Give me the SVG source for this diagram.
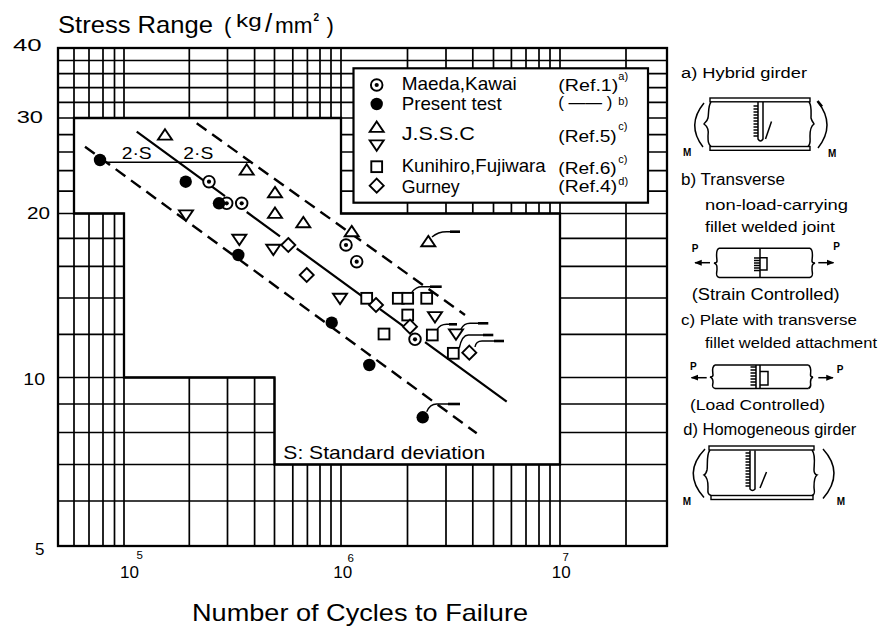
<svg xmlns="http://www.w3.org/2000/svg" width="886" height="628" viewBox="0 0 886 628">
<style>
.g{stroke:#000;stroke-width:1.7;fill:none}
.b{stroke:#000;stroke-width:2.3;fill:none}
.t{font-family:"Liberation Sans",Arial,sans-serif;fill:#000}
.m{fill:#fff;stroke:#000;stroke-width:1.9}
.ln{stroke:#000;stroke-width:2.2;fill:none}
.dl{stroke:#000;stroke-width:2.4;fill:none;stroke-dasharray:12 7}
.fl{stroke:#000;stroke-width:1.4;fill:none}
.fh{stroke:#000;stroke-width:2.6;fill:none}
.d{stroke:#000;stroke-width:1.5;fill:none}
.pm{font-family:"Liberation Sans",Arial,sans-serif;font-weight:bold;font-size:10px;fill:#000}
</style>
<defs>
<g id="cd"><circle r="5.8" class="m"/><circle r="2.1" fill="#000"/></g>
<circle id="fc" r="6.2" fill="#000"/>
<polygon id="tu" points="0,-5.8 7,4.6 -7,4.6" class="m"/>
<polygon id="td" points="0,5.8 7,-4.6 -7,-4.6" class="m"/>
<rect id="sq" x="-5.4" y="-5.4" width="10.8" height="10.8" class="m"/>
<polygon id="dm" points="0,-7 7,0 0,7 -7,0" class="m"/>
<marker id="ah" viewBox="0 0 10 10" refX="9" refY="5" markerWidth="5" markerHeight="5" orient="auto"><path d="M0,1 L10,5 L0,9 z" fill="#000"/></marker>
</defs>
<rect width="886" height="628" fill="#fff"/>

<g id="title">
<text class="t" x="58" y="33.3" font-size="24" textLength="155" lengthAdjust="spacingAndGlyphs">Stress Range</text>
<text class="t" x="224" y="33" font-size="22">(</text>
<text class="t" x="236" y="27" font-size="19" textLength="25.7" lengthAdjust="spacingAndGlyphs">kg</text>
<text class="t" x="265" y="32" font-size="26">/</text>
<text class="t" x="275" y="33.3" font-size="22" textLength="37.5" lengthAdjust="spacingAndGlyphs">mm</text>
<text class="t" x="313.5" y="20.5" font-size="10" font-weight="bold">2</text>
<text class="t" x="326.5" y="33" font-size="22">)</text>
</g>

<g id="grid">
<path class="g" d="M58,48V546 M74,48V546
M89,48V118 M89,213.5V546 M103,48V118 M103,213.5V546 M114.5,48V118 M114.5,213.5V546 M124,48V118 M124,213.5V546
M189.3,48V118 M189.3,377.5V546 M227.5,48V118 M227.5,377.5V546 M254.6,48V118 M254.6,377.5V546 M274.5,48V118 M274.5,377.5V546
M292.8,48V118 M292.8,464.5V546 M307.4,48V118 M307.4,464.5V546 M320,48V118 M320,464.5V546 M331,48V118 M331,464.5V546
M341,48V213.5 M341,464.5V546 M407.5,48V213.5 M407.5,464.5V546 M446,48V213.5 M446,464.5V546 M472.8,48V213.5 M472.8,464.5V546
M493.5,48V213.5 M493.5,464.5V546 M511.4,48V213.5 M511.4,464.5V546 M526,48V213.5 M526,464.5V546 M539,48V213.5 M539,464.5V546
M550,48V213.5 M550,464.5V546 M560,48V546 M626,48V546 M667,48V546
M58,60.5H667 M58,73.7H667 M58,87.6H667 M58,102.3H667 M58,118H667
M58,134.6H74 M341,134.6H667 M58,152H74 M341,152H667 M58,170.7H74 M341,170.7H667 M58,191.1H74 M341,191.1H667
M58,213.5H124 M341,213.5H667
M58,238.4H124 M560,238.4H667 M58,266.3H124 M560,266.3H667 M58,298H124 M560,298H667 M58,334.3H124 M560,334.3H667
M58,377.5H274.5 M560,377.5H667 M58,404H274.5 M560,404H667 M58,432.5H274.5 M560,432.5H667
M58,464.5H667 M58,501H667"/>
<rect class="b" x="58" y="48" width="609" height="498"/>
<polygon class="b" points="74,118 341,118 341,213.5 560,213.5 560,464.5 274.5,464.5 274.5,377.5 124,377.5 124,213.5 74,213.5"/>
</g>

<g id="y-axis-labels">
<text class="t" x="13" y="51" font-size="17" textLength="28.7" lengthAdjust="spacingAndGlyphs">40</text>
<text class="t" x="16.7" y="123" font-size="17" textLength="26.3" lengthAdjust="spacingAndGlyphs">30</text>
<text class="t" x="27" y="218.5" font-size="17" textLength="23" lengthAdjust="spacingAndGlyphs">20</text>
<text class="t" x="23.3" y="385" font-size="17" textLength="21.7" lengthAdjust="spacingAndGlyphs">10</text>
<text class="t" x="35" y="555" font-size="17">5</text>
</g>

<g id="x-axis-labels">
<text class="t" x="120" y="578" font-size="17">10</text>
<text class="t" x="136.5" y="558.5" font-size="11.5">5</text>
<text class="t" x="333.3" y="578" font-size="17">10</text>
<text class="t" x="347.5" y="561.5" font-size="11.5">6</text>
<text class="t" x="551.7" y="578" font-size="17">10</text>
<text class="t" x="562.5" y="560.5" font-size="11.5">7</text>
<text class="t" x="192" y="621" font-size="24" textLength="336" lengthAdjust="spacingAndGlyphs">Number of Cycles to Failure</text>
</g>

<g id="connectors">
<path class="dl" d="M196.7,123.3 L465,315"/>
<path class="dl" d="M85,146.7 L476.7,433.3"/>
<path class="ln" d="M136.7,131.7 L225,196.1 M246.7,212 L280,236.3 M296.7,248.5 L363.3,297.1 M380,309.2 L403.3,326.2 M425,342.1 L506.7,401.7"/>
<path class="d" d="M104,162.3 H250"/>
<g id="runout-flags">
<path class="fl" d="M432,237 Q438,231.7 446.7,231.7 H452"/><path class="fh" d="M450,231.7 H460"/>
<path class="fl" d="M412,292 Q416,286.7 421.7,286.7 H432"/><path class="fh" d="M430,286.7 H441.7"/>
<path class="fl" d="M436.7,330 Q440,324.3 446.7,324.3 H451"/><path class="fh" d="M449,324.3 H457"/>
<path class="fl" d="M461,329 Q464,323.3 470,323.3 H480"/><path class="fh" d="M478,323.3 H488.3"/>
<path class="fl" d="M459.3,348 Q462,335 468.3,335 H485"/><path class="fh" d="M483,335 H493.3"/>
<path class="fl" d="M475,347 Q476,341 482,341 H496"/><path class="fh" d="M494,341 H504"/>
<path class="fl" d="M426.7,411.7 Q430,404 436.7,404 H450"/><path class="fh" d="M448,404 H460"/>
</g>
</g>

<g id="data-maeda">
<use href="#cd" x="209" y="181.7"/><use href="#cd" x="226.7" y="203.3"/><use href="#cd" x="241.7" y="203.3"/>
<use href="#cd" x="346" y="245"/><use href="#cd" x="356.7" y="261.7"/><use href="#cd" x="415" y="339.3"/>
</g>
<g id="data-present">
<use href="#fc" x="100" y="160"/><use href="#fc" x="185.7" y="181.7"/><use href="#fc" x="219" y="203.3"/>
<use href="#fc" x="238.3" y="255"/><use href="#fc" x="331.7" y="322.7"/><use href="#fc" x="369.3" y="365"/><use href="#fc" x="422.7" y="417.3"/>
</g>
<g id="data-jssc">
<use href="#tu" x="165" y="135"/><use href="#tu" x="246.7" y="170"/><use href="#tu" x="275" y="192.7"/><use href="#tu" x="275" y="213.3"/>
<use href="#tu" x="303.3" y="222.7"/><use href="#tu" x="351.7" y="231.7"/><use href="#tu" x="428.3" y="241.7"/>
<use href="#td" x="186" y="215"/><use href="#td" x="239.3" y="239.3"/><use href="#td" x="273.3" y="249.3"/>
<use href="#td" x="340" y="298.3"/><use href="#td" x="435" y="316.7"/><use href="#td" x="456" y="334"/>
</g>
<g id="data-kunihiro">
<use href="#sq" x="366.7" y="298.3"/><use href="#sq" x="398.3" y="298.3"/><use href="#sq" x="407.7" y="298.3"/><use href="#sq" x="426.7" y="298.3"/>
<use href="#sq" x="407.7" y="315"/><use href="#sq" x="384" y="334"/><use href="#sq" x="432.3" y="335"/><use href="#sq" x="453.3" y="353.3"/>
</g>
<g id="data-gurney">
<use href="#dm" x="288.3" y="245"/><use href="#dm" x="306.7" y="275"/><use href="#dm" x="376" y="305"/><use href="#dm" x="410" y="326.7"/><use href="#dm" x="469.3" y="352.7"/>
</g>

<g id="annotations">
<text class="t" x="121.7" y="159.3" font-size="17" textLength="30" lengthAdjust="spacingAndGlyphs">2·S</text>
<text class="t" x="183.3" y="159.3" font-size="17" textLength="30" lengthAdjust="spacingAndGlyphs">2·S</text>
<text class="t" x="283.3" y="459.3" font-size="19" textLength="202" lengthAdjust="spacingAndGlyphs">S: Standard deviation</text>
</g>

<g id="legend">
<rect x="353.5" y="68.3" width="294.5" height="134.4" fill="#fff" stroke="#000" stroke-width="2.2"/>
<use href="#cd" x="376.7" y="85"/>
<use href="#fc" x="376.7" y="104"/>
<use href="#tu" x="376.7" y="127.3"/>
<use href="#td" x="376.7" y="145"/>
<use href="#sq" x="376.7" y="166.7"/>
<use href="#dm" x="376.7" y="185.7"/>
<text class="t" x="401.7" y="90" font-size="19" textLength="115" lengthAdjust="spacingAndGlyphs">Maeda,Kawai</text>
<text class="t" x="401.7" y="110" font-size="19" textLength="100" lengthAdjust="spacingAndGlyphs">Present test</text>
<text class="t" x="401.7" y="140" font-size="19" textLength="73" lengthAdjust="spacingAndGlyphs">J.S.S.C</text>
<text class="t" x="401.7" y="171.7" font-size="19" textLength="144" lengthAdjust="spacingAndGlyphs">Kunihiro,Fujiwara</text>
<text class="t" x="401.7" y="193" font-size="19" textLength="58" lengthAdjust="spacingAndGlyphs">Gurney</text>
<text class="t" x="558.3" y="90.7" font-size="16" textLength="60" lengthAdjust="spacingAndGlyphs">(Ref.1)</text>
<text class="t" x="618.3" y="80" font-size="11">a)</text>
<text class="t" x="558.3" y="108" font-size="16" textLength="54" lengthAdjust="spacingAndGlyphs">( —— )</text>
<text class="t" x="618.3" y="105" font-size="11">b)</text>
<text class="t" x="558.3" y="141.7" font-size="16" textLength="58.4" lengthAdjust="spacingAndGlyphs">(Ref.5)</text>
<text class="t" x="618.3" y="130" font-size="11">c)</text>
<text class="t" x="558.3" y="174" font-size="16" textLength="58.4" lengthAdjust="spacingAndGlyphs">(Ref.6)</text>
<text class="t" x="618.3" y="163" font-size="11">c)</text>
<text class="t" x="558.3" y="191.7" font-size="16" textLength="59" lengthAdjust="spacingAndGlyphs">(Ref.4)</text>
<text class="t" x="618.3" y="185" font-size="11">d)</text>
</g>

<g id="specimen-a">
<text class="t" x="681" y="78.3" font-size="14" textLength="126" lengthAdjust="spacingAndGlyphs">a) Hybrid girder</text>
<rect x="710" y="98" width="100" height="3.8" fill="#fff" stroke="#000" stroke-width="1.4"/>
<rect x="710" y="146.5" width="100" height="3.8" fill="#fff" stroke="#000" stroke-width="1.4"/>
<path class="d" d="M711,102 C708,106 709,112 708,118 C707,122 704,123 704,124 C707,126 709,130 708,136 C708,141 708,144 711,146.5"/>
<path class="d" d="M809,102 C812,106 811,112 811,118 C812,122 814,123 814,124 C811,126 810,130 810,136 C810,141 811,144 808,146.5"/>
<path class="d" d="M758,102 V139 Q760.5,143 763,139 V102"/>
<path class="d" stroke-width="1" d="M753.5,106H758 M753.5,109H758 M753.5,112H758 M753.5,115H758 M753.5,118H758 M753.5,121H758 M753.5,124H758 M753.5,127H758 M753.5,130H758 M753.5,133H758 M753.5,136H758"/>
<path class="d" d="M765.5,139 L771.5,121.5"/>
<path class="d" stroke-width="1.6" d="M704,103 Q686,125 703,147"/>
<path class="d" stroke-width="1.6" d="M818,102 Q836,125 818,148"/>
<path class="fh" d="M817.5,101 L822,106.5"/>
<text class="pm" x="683" y="156">M</text>
<text class="pm" x="828" y="157">M</text>
</g>

<g id="specimen-b">
<text class="t" x="681" y="185" font-size="16" textLength="104" lengthAdjust="spacingAndGlyphs">b) Transverse</text>
<text class="t" x="705" y="210" font-size="14" textLength="143" lengthAdjust="spacingAndGlyphs">non-load-carrying</text>
<text class="t" x="705" y="231.7" font-size="14" textLength="130" lengthAdjust="spacingAndGlyphs">fillet welded joint</text>
<path class="d" d="M719,248.3 H810 M719,277.5 H810 M760,248.3 V277.5"/>
<path class="d" d="M719,248.3 C715,250 717,258 717,261 C717,263 714,263 714,263 C717,264 717,266 717,269 C717,273 715,276 719,277.5"/>
<path class="d" d="M810,248.3 C814,250 812,258 812,261 C812,263 815,263 815,263 C812,264 812,266 812,269 C812,273 814,276 810,277.5"/>
<path class="d" d="M760,257.7 H767 V270 H760"/>
<path class="d" stroke-width="1" d="M754,258H760 M754,260.5H760 M754,263H760 M754,265.5H760 M754,268H760 M754,270.5H760"/>
<text class="pm" x="691.7" y="251.7">P</text>
<text class="pm" x="833.3" y="250">P</text>
<path class="d" marker-end="url(#ah)" d="M710,262.7 H695"/>
<path class="d" marker-end="url(#ah)" d="M818.3,262.7 H833.5"/>
<text class="t" x="691.7" y="300" font-size="16" textLength="148" lengthAdjust="spacingAndGlyphs">(Strain Controlled)</text>
</g>

<g id="specimen-c">
<text class="t" x="681" y="325" font-size="15" textLength="176" lengthAdjust="spacingAndGlyphs">c) Plate with transverse</text>
<text class="t" x="705" y="348.3" font-size="14" textLength="172" lengthAdjust="spacingAndGlyphs">fillet welded attachment</text>
<path class="d" d="M715,365 H808.3 M715,388.5 H808.3 M756,365 V388.5 M760,365 V388.5"/>
<path class="d" d="M715,365 C711,367 713,373 713,375 C713,377 710,377 710,377 C713,378 713,380 713,382 C713,385 711,387 715,388.5"/>
<path class="d" d="M808.3,365 C812,367 810.5,373 810.5,375 C810.5,377 813,377 813,377 C810.5,378 810.5,380 810.5,382 C810.5,385 812,387 808.3,388.5"/>
<path class="d" d="M760,371.5 H768 V385 H760"/>
<path class="d" stroke-width="1" d="M750.5,367H756 M750.5,370H756 M750.5,373H756 M750.5,376H756 M750.5,379H756 M750.5,382H756 M750.5,385H756"/>
<text class="pm" x="690" y="370">P</text>
<text class="pm" x="836.7" y="373.3">P</text>
<path class="d" marker-end="url(#ah)" d="M706.7,377.7 H691.5"/>
<path class="d" marker-end="url(#ah)" d="M818.3,377.7 H833"/>
<text class="t" x="690" y="410" font-size="15" textLength="135" lengthAdjust="spacingAndGlyphs">(Load Controlled)</text>
</g>

<g id="specimen-d">
<text class="t" x="683.3" y="435" font-size="16" textLength="173" lengthAdjust="spacingAndGlyphs">d) Homogeneous girder</text>
<rect x="709" y="446" width="105" height="4" fill="#fff" stroke="#000" stroke-width="1.4"/>
<rect x="711" y="495.5" width="102" height="4" fill="#fff" stroke="#000" stroke-width="1.4"/>
<path class="d" d="M710,450 C706,455 708,465 707,470 C706,474 704,475 704,475 C707,477 708,482 708,487 C708,491 707,494 711,495.5"/>
<path class="d" d="M812,450 C816,455 814,465 814,470 C814,474 817,475 817,475 C814,477 814,482 814,487 C814,491 816,494 812,495.5"/>
<path class="d" d="M750,450.5 V489 Q752.5,492 755,489 V450.5"/>
<path class="d" stroke-width="1" d="M745.5,453H750 M745.5,456H750 M745.5,459H750 M745.5,462H750 M745.5,465H750 M745.5,468H750 M745.5,471H750 M745.5,474H750 M745.5,477H750 M745.5,480H750 M745.5,483H750 M745.5,486H750"/>
<path class="d" d="M760,488 L766.5,472"/>
<path class="d" stroke-width="1.6" d="M705,449 Q682,473 704,497.5"/>
<path class="d" stroke-width="1.6" d="M823,449 Q845,473 823,498.5"/>
<text class="pm" x="682.7" y="505">M</text>
<text class="pm" x="836.7" y="505">M</text>
</g>
</svg>
